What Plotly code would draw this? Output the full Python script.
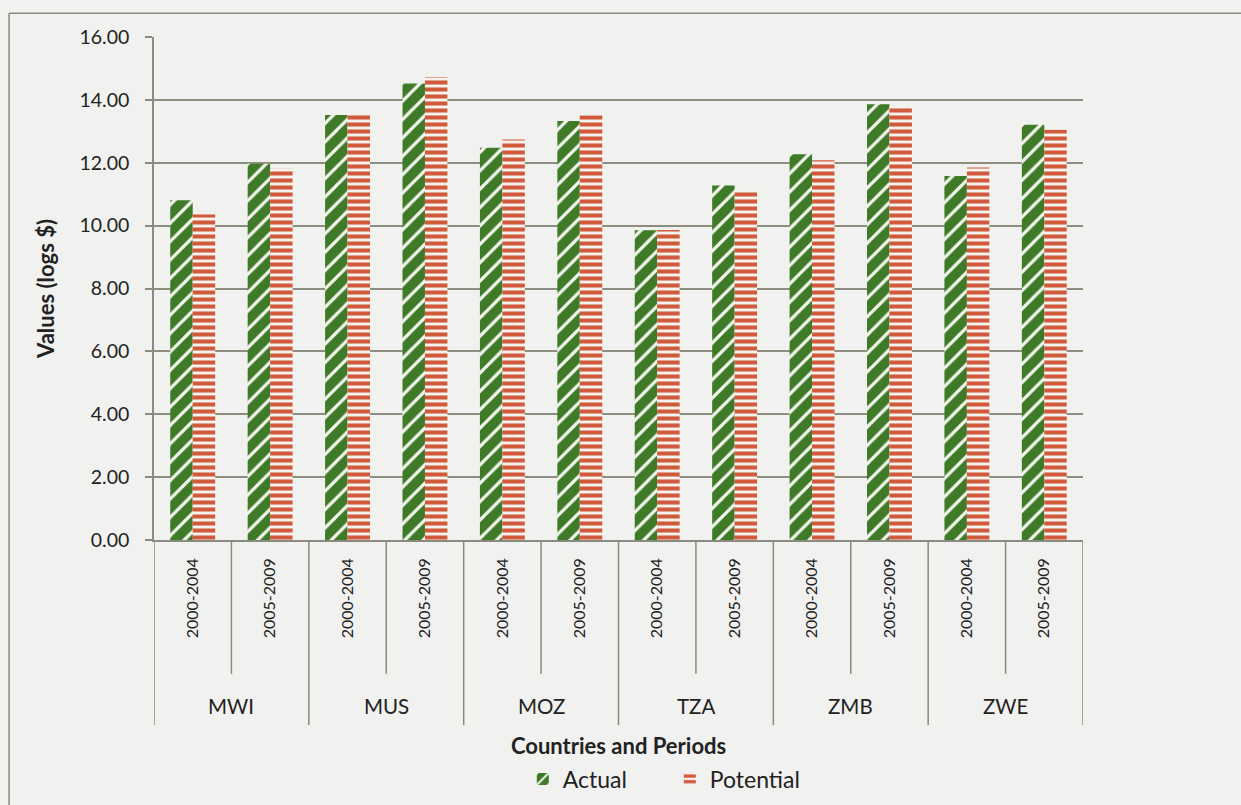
import plotly.graph_objects as go

# Countries and sub-periods
countries = ["MWI", "MUS", "MOZ", "TZA", "ZMB", "ZWE"]
periods = ["2000-2004", "2005-2009"]

# Values in logs of US$, one entry per (country, period)
actual = [10.81, 11.97, 13.52, 14.52, 12.48, 13.33, 9.85, 11.28, 12.27, 13.86, 11.58, 13.21]
potential = [10.35, 11.81, 13.52, 14.73, 12.74, 13.51, 9.86, 11.09, 12.08, 13.80, 11.85, 13.05]

y_ticks = [0, 2, 4, 6, 8, 10, 12, 14, 16]

# one slot per (country, period) on the category scale
period_labels = [p for _ in countries for p in periods]
slots = list(range(len(period_labels)))
n_per = len(periods)

GREEN = "#3e7a27"
RED = "#d05a3b"
BG = "#f1f1ef"
GRID = "#8d8d80"
LINE = "#8a8a80"
FONT = "Lato"
TXT = "#222222"

fig = go.Figure()
fig.add_trace(go.Bar(
    x=slots, y=actual, name="Actual",
    marker=dict(color=GREEN, line=dict(width=0),
                pattern=dict(shape="/", fgcolor="#f4f6ee", bgcolor=GREEN,
                             size=13, solidity=0.25, fillmode="replace")),
))
fig.add_trace(go.Bar(
    x=slots, y=potential, name="Potential",
    marker=dict(color=RED, line=dict(width=0),
                pattern=dict(shape="-", fgcolor=RED, bgcolor="#f6f3ee",
                             size=7, solidity=0.58, fillmode="replace")),
))

shapes = []
annotations = []
# separators between the periods of a country (short) and between countries (long)
for b in range(len(slots) + 1):
    edge = b - 0.5
    outer = (b % n_per == 0)
    shapes.append(dict(type="line", xref="x", yref="paper",
                       x0=edge, x1=edge, y0=0, y1=-0.368 if outer else -0.266,
                       line=dict(color=LINE, width=1.5)))
# country names under each pair of periods
for k, c in enumerate(countries):
    annotations.append(dict(text=c, xref="x", yref="paper",
                            x=k * n_per + (n_per - 1) / 2, y=-0.330,
                            xanchor="center", yanchor="middle", showarrow=False,
                            font=dict(size=20.5, color=TXT, family=FONT)))
annotations.append(dict(text="<b>Countries and Periods</b>", xref="paper", yref="paper",
                        x=0.5, y=-0.408, xanchor="center", yanchor="middle",
                        showarrow=False, font=dict(size=22, color=TXT, family=FONT)))
# outer chart frame (top and left edges)
shapes.append(dict(type="line", xref="paper", yref="paper",
                   x0=-0.156, x1=1.2, y0=1.047, y1=1.047,
                   line=dict(color=LINE, width=1.5)))
shapes.append(dict(type="line", xref="paper", yref="paper",
                   x0=-0.156, x1=-0.156, y0=1.047, y1=-0.6,
                   line=dict(color=LINE, width=1.5)))

fig.update_layout(
    width=1241, height=805,
    margin=dict(l=154, r=158, t=37, b=265, autoexpand=False),
    paper_bgcolor=BG, plot_bgcolor=BG,
    font=dict(family=FONT, size=18, color=TXT),
    barmode="group", bargap=0.42, bargroupgap=0.0,
    showlegend=True,
    legend=dict(orientation="h", x=0.397, xanchor="left", y=-0.475, yanchor="middle",
                font=dict(size=23, color=TXT), bgcolor="rgba(0,0,0,0)",
                entrywidth=102, itemwidth=30),
    shapes=shapes,
    annotations=annotations,
)

fig.update_yaxes(
    range=[0, 16], tickvals=y_ticks, tickformat=".2f",
    tickfont=dict(size=19.5), automargin=False,
    showgrid=True, gridcolor=GRID, gridwidth=1.5,
    showline=True, linecolor=LINE, linewidth=1.5,
    ticks="outside", ticklen=7, tickcolor=LINE, tickwidth=1.5,
    ticklabelstandoff=12, zeroline=False,
    title=dict(text="<b>Values (logs $)</b>", font=dict(size=22), standoff=19),
)
fig.update_xaxes(
    range=[-0.5, len(slots) - 0.5],
    tickvals=slots, ticktext=period_labels, tickangle=-90,
    tickfont=dict(size=16), automargin=False,
    showline=True, linecolor=LINE, linewidth=1.5,
    showgrid=False, zeroline=False,
    ticks="", ticklabelstandoff=10,
)

fig.write_html("out.html")
